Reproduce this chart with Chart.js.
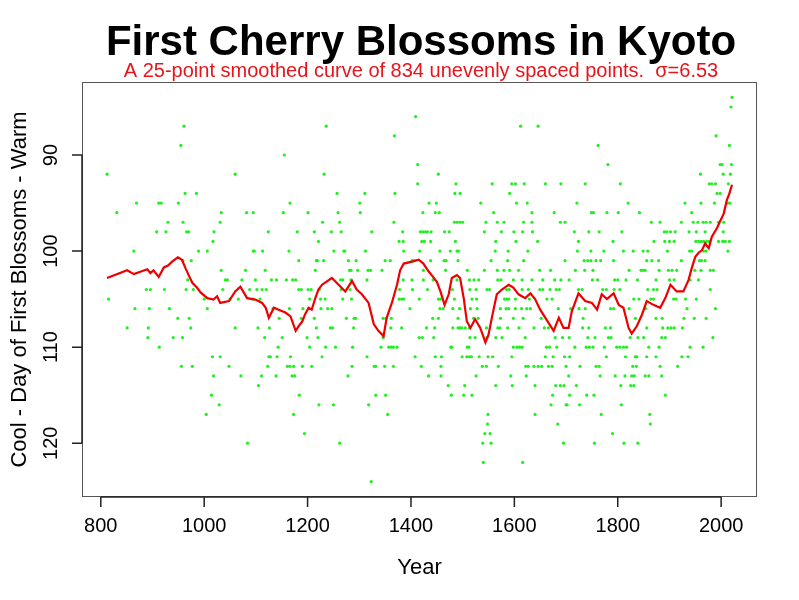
<!DOCTYPE html>
<html>
<head>
<meta charset="utf-8">
<script src="https://cdn.jsdelivr.net/npm/chart.js@4"></script>
<style>
  html, body { margin: 0; padding: 0; background: #fff; }
  canvas { display: block; }
</style>
</head>
<body>
<canvas id="chart" width="799" height="600"></canvas>
<script>
// Observed first-blossom days, grouped by day of year: obsYears[i] holds the years with day obsDays[i]
const obsDays = [84, 85, 86, 87, 88, 89, 90, 91, 92, 93, 94, 95, 96, 97, 98, 99, 100, 101, 102, 103,
  104, 105, 106, 107, 108, 109, 110, 111, 112, 113, 114, 115, 116, 117, 118, 119, 120, 122, 124];
const obsYears = [
  [2021],
  [2019],
  [1409],
  [961, 1236, 1612, 1646],
  [1368, 1990],
  [955, 1762, 2016],
  [1155],
  [1413, 1781, 1998, 2002, 2020],
  [812, 1060, 1232, 1453, 1960, 2004, 2018],
  [1413, 1487, 1557, 1595, 1602, 1619, 1660, 1690, 1737, 1805, 1977, 1982, 1989, 2014],
  [963, 985, 1257, 1311, 1369, 1485, 1495, 1591, 1992, 1998],
  [869, 912, 917, 950, 1166, 1301, 1435, 1449, 1535, 1604, 1625, 1721, 1820, 1930, 1961, 1987, 2013, 2017],
  [831, 1033, 1082, 1095, 1153, 1201, 1259, 1302, 1423, 1447, 1455, 1560, 1634, 1677, 1749, 1753, 1779,
    1801, 1842, 1943],
  [930, 959, 1031, 1229, 1262, 1367, 1484, 1489, 1495, 1500, 1545, 1567, 1580, 1618, 1634, 1689, 1698,
    1865, 1882, 1923, 1946, 1955, 1965, 1971, 1979, 1995, 2005],
  [908, 926, 966, 970, 1019, 1124, 1180, 1213, 1246, 1265, 1324, 1384, 1418, 1423, 1428, 1432, 1439,
    1465, 1474, 1542, 1575, 1599, 1616, 1635, 1716, 1744, 1764, 1808, 1890, 1895, 1902, 1911, 1938,
    1952, 1969, 2004],
  [1017, 1221, 1377, 1385, 1421, 1426, 1438, 1486, 1564, 1603, 1645, 1724, 1791, 1870, 1891, 1900, 1909,
    1951, 1956, 1961, 1966, 1972, 1977, 1995, 2003, 2008, 2016],
  [864, 989, 1006, 1095, 1097, 1113, 1164, 1251, 1270, 1272, 1312, 1386, 1417, 1456, 1476, 1489, 1492,
    1563, 1588, 1626, 1722, 1748, 1773, 1811, 1830, 1849, 1858, 1896, 1939, 1943, 1966, 1971, 2013],
  [959, 975, 1183, 1217, 1219, 1231, 1279, 1294, 1350, 1360, 1402, 1406, 1438, 1464, 1468, 1491, 1555,
    1587, 1618, 1698, 1735, 1742, 1748, 1758, 1767, 1792, 1856, 1866, 1879, 1923, 1958, 1962, 1969],
  [1033, 1080, 1118, 1215, 1281, 1284, 1297, 1317, 1322, 1344, 1424, 1467, 1509, 1542, 1567, 1580, 1591,
    1608, 1649, 1670, 1718, 1736, 1752, 1822, 1845, 1849, 1853, 1880, 1898, 1905, 1914, 1949, 1961,
    1979, 1985],
  [968, 1041, 1045, 1073, 1099, 1130, 1140, 1159, 1171, 1177, 1264, 1268, 1284, 1315, 1385, 1402, 1424,
    1443, 1489, 1513, 1522, 1531, 1568, 1574, 1598, 1615, 1634, 1655, 1678, 1690, 1706, 1751, 1761,
    1794, 1800, 1816, 1838, 1874, 1900, 1909, 1940, 1956],
  [888, 896, 923, 965, 979, 1036, 1088, 1102, 1112, 1120, 1183, 1188, 1201, 1207, 1223, 1265, 1282, 1378,
    1403, 1432, 1480, 1514, 1526, 1547, 1552, 1585, 1590, 1615, 1627, 1649, 1655, 1669, 1681, 1687,
    1724, 1731, 1771, 1778, 1793, 1804, 1858, 1869, 1876, 1979],
  [815, 1000, 1050, 1066, 1094, 1108, 1204, 1225, 1234, 1268, 1285, 1377, 1382, 1386, 1416, 1453, 1457,
    1484, 1518, 1527, 1581, 1585, 1589, 1602, 1629, 1663, 1673, 1831, 1841, 1864, 1869, 1908, 1913,
    1931, 1952],
  [866, 894, 933, 1006, 1133, 1165, 1191, 1202, 1226, 1239, 1247, 1398, 1456, 1462, 1481, 1494, 1515,
    1528, 1573, 1584, 1589, 1602, 1614, 1624, 1631, 1685, 1709, 1725, 1737, 1786, 1792, 1822, 1854,
    1934, 1989],
  [949, 971, 1145, 1188, 1213, 1275, 1290, 1293, 1346, 1352, 1362, 1442, 1453, 1491, 1521, 1530, 1573,
    1598, 1617, 1652, 1733, 1834, 1874, 1886, 1928, 1948, 1971],
  [851, 892, 974, 1060, 1104, 1126, 1217, 1244, 1248, 1289, 1361, 1382, 1430, 1446, 1481, 1491, 1495,
    1498, 1505, 1513, 1546, 1568, 1572, 1587, 1609, 1638, 1658, 1666, 1732, 1744, 1776, 1786, 1856,
    1887, 1897, 1903, 1909, 1925],
  [891, 940, 958, 1117, 1151, 1199, 1220, 1346, 1416, 1422, 1444, 1514, 1524, 1547, 1564, 1576, 1621,
    1679, 1693, 1706, 1742, 1756, 1782, 1787, 1824, 1839, 1850, 1885, 1892, 1984],
  [913, 1143, 1204, 1235, 1254, 1287, 1342, 1357, 1362, 1366, 1373, 1477, 1479, 1509, 1512, 1598, 1605,
    1610, 1615, 1662, 1668, 1682, 1717, 1739, 1745, 1752, 1774, 1798, 1804, 1811, 1817, 1860, 1880,
    1940, 1965],
  [1016, 1031, 1125, 1128, 1141, 1167, 1228, 1315, 1408, 1447, 1459, 1499, 1508, 1513, 1517, 1532, 1549,
    1558, 1595, 1660, 1675, 1697, 1707, 1778, 1815, 1834, 1837, 1856, 1874, 1924, 1936],
  [956, 977, 1048, 1123, 1161, 1166, 1173, 1190, 1208, 1286, 1329, 1332, 1349, 1366, 1420, 1458, 1538,
    1546, 1569, 1622, 1627, 1638, 1646, 1653, 1666, 1673, 1700, 1727, 1758, 1764, 1829, 1836, 1882, 1916],
  [1018, 1071, 1111, 1139, 1170, 1175, 1278, 1434, 1458, 1526, 1593, 1623, 1705, 1766, 1795, 1814, 1827,
    1832, 1853, 1860, 1885],
  [1105, 1472, 1504, 1564, 1596, 1640, 1680, 1689, 1696, 1720, 1806, 1825, 1831],
  [1014, 1184, 1332, 1351, 1478, 1502, 1518, 1674, 1707, 1740, 1754, 1892],
  [1029, 1222, 1250, 1318, 1671, 1700, 1702, 1726, 1807],
  [1004, 1173, 1355, 1549, 1640, 1768, 1862],
  [1548, 1684, 1863],
  [1194, 1543, 1553, 1790],
  [1084, 1262, 1539, 1555, 1695, 1755, 1812, 1839],
  [1540, 1616],
  [1323]
];

// 25-point smoothed curve
const curveYears = [812, 851, 864, 890, 896, 902, 912, 922, 930, 938, 949, 957, 964, 970, 977, 986, 993,
  1006, 1018, 1025, 1031, 1048, 1060, 1070, 1083, 1099, 1112, 1119, 1125, 1135, 1144, 1157, 1167, 1177,
  1183, 1190, 1195, 1202, 1208, 1215, 1221, 1228, 1247, 1260, 1273, 1286, 1295, 1305, 1318, 1328, 1337,
  1347, 1353, 1363, 1373, 1379, 1386, 1402, 1415, 1424, 1434, 1440, 1450, 1457, 1465, 1473, 1479, 1489,
  1495, 1502, 1508, 1515, 1524, 1534, 1544, 1550, 1557, 1566, 1576, 1589, 1598, 1608, 1621, 1631, 1640,
  1650, 1660, 1676, 1686, 1695, 1705, 1711, 1724, 1737, 1750, 1760, 1769, 1779, 1792, 1802, 1811, 1821,
  1827, 1837, 1847, 1856, 1869, 1882, 1892, 1902, 1914, 1927, 1937, 1943, 1950, 1956, 1963, 1969, 1976,
  1982, 1992, 1998, 2005, 2011, 2016, 2021];
const curveDays = [102.8, 102.0, 102.4, 101.9, 102.3, 102.0, 102.7, 101.7, 101.5, 101.1, 100.65, 100.9,
  101.8, 102.5, 103.3, 103.8, 104.3, 104.9, 105.05, 104.7, 105.4, 105.2, 104.2, 103.7, 104.9, 105.05,
  105.4, 105.9, 106.95, 105.9, 106.1, 106.4, 106.8, 108.3, 107.8, 107.3, 106.6, 105.9, 106.1, 104.9,
  104.0, 103.5, 102.8, 103.5, 104.2, 103.1, 104.0, 104.5, 105.4, 107.6, 108.3, 108.85, 106.95, 105.4,
  103.5, 102.0, 101.3, 101.1, 100.9, 101.3, 102.1, 102.5, 103.2, 104.2, 105.6, 104.5, 102.8, 102.5,
  102.8, 104.9, 107.3, 108.0, 107.1, 108.0, 109.5, 108.7, 106.8, 104.5, 104.0, 103.5, 103.8, 104.5,
  104.9, 104.4, 105.0, 106.1, 106.95, 108.3, 106.95, 108.0, 108.0, 106.3, 104.4, 105.2, 105.4, 106.1,
  104.5, 105.0, 104.4, 105.6, 105.9, 108.0, 108.6, 107.8, 106.6, 105.2, 105.6, 105.9, 104.9, 103.5,
  104.2, 104.2, 103.0, 101.8, 100.6, 100.2, 99.9, 99.2, 99.7, 98.5, 97.6, 96.9, 96.1, 94.7, 94.0, 93.1];

const xTicks = [800, 1000, 1200, 1400, 1600, 1800, 2000];
const yTicks = [90, 100, 110, 120];

const titleText = 'First Cherry Blossoms in Kyoto';
const subtitleText = 'A 25-point smoothed curve of 834 unevenly spaced points.  \u03c3=6.53';
const xTitle = 'Year';
const yTitle = 'Cool - Day of First Blossoms - Warm';

const FONT = "'Liberation Sans', Arial, Helvetica, sans-serif";

const points = [];
obsDays.forEach((d, i) => obsYears[i].forEach(yr => points.push({ x: yr, y: d })));
const curve = curveYears.map((yr, i) => ({ x: yr, y: curveDays[i] }));

// R pads the data range by 4% on each side
const allYears = points.map(p => p.x);
const allDays = points.map(p => p.y);
const yrMin = Math.min(...allYears), yrMax = Math.max(...allYears);
const dMin = Math.min(...allDays), dMax = Math.max(...allDays);
const xPad = (yrMax - yrMin) * 0.04;
const yPad = (dMax - dMin) * 0.04;

// Draws the R style box, axes, tick labels and titles
const rFrame = {
  id: 'rFrame',
  afterDraw(chart) {
    const { ctx, chartArea: a, scales } = chart;
    const x = scales.x, y = scales.y;
    const tick = 10;

    ctx.save();
    ctx.strokeStyle = '#555';
    ctx.lineWidth = 1;
    ctx.strokeRect(a.left + 0.5, a.top + 0.5, a.right - a.left - 1, a.bottom - a.top - 1);

    ctx.strokeStyle = '#222';
    ctx.lineWidth = 1.5;
    ctx.fillStyle = '#000';
    ctx.font = '20px ' + FONT;

    // x axis
    const xs = x.ticks.map(t => ({ px: x.getPixelForValue(t.value), v: t.value }));
    ctx.beginPath();
    ctx.moveTo(xs[0].px, a.bottom);
    ctx.lineTo(xs[xs.length - 1].px, a.bottom);
    xs.forEach(t => { ctx.moveTo(t.px, a.bottom); ctx.lineTo(t.px, a.bottom + tick); });
    ctx.stroke();
    ctx.textAlign = 'center';
    ctx.textBaseline = 'alphabetic';
    xs.forEach(t => ctx.fillText(String(t.v), t.px, 532));

    // y axis
    const ys = y.ticks.map(t => ({ px: y.getPixelForValue(t.value), v: t.value }));
    ctx.beginPath();
    ctx.moveTo(a.left, ys[0].px);
    ctx.lineTo(a.left, ys[ys.length - 1].px);
    ys.forEach(t => { ctx.moveTo(a.left, t.px); ctx.lineTo(a.left - tick, t.px); });
    ctx.stroke();
    ys.forEach(t => {
      ctx.save();
      ctx.translate(57, t.px);
      ctx.rotate(-Math.PI / 2);
      ctx.fillText(String(t.v), 0, 0);
      ctx.restore();
    });

    // axis titles
    ctx.font = '22px ' + FONT;
    ctx.fillText(xTitle, (a.left + a.right) / 2, 574);
    ctx.save();
    ctx.translate(26, (a.top + a.bottom) / 2);
    ctx.rotate(-Math.PI / 2);
    ctx.fillText(yTitle, 0, 0);
    ctx.restore();

    // main title and subtitle
    ctx.font = 'bold 42px ' + FONT;
    ctx.fillText(titleText, 421, 55);
    ctx.fillStyle = '#e8141c';
    ctx.font = '20px ' + FONT;
    ctx.fillText(subtitleText, 421, 77);
    ctx.restore();
  }
};

new Chart(document.getElementById('chart'), {
  type: 'scatter',
  data: {
    datasets: [
      {
        label: 'Smoothed',
        data: curve,
        showLine: true,
        borderColor: '#ee0000',
        borderWidth: 2.2,
        pointRadius: 0,
        tension: 0
      },
      {
        label: 'Observed',
        data: points,
        backgroundColor: '#22ee22',
        borderWidth: 0,
        pointRadius: 1.6
      }
    ]
  },
  options: {
    responsive: false,
    animation: false,
    devicePixelRatio: 1,
    layout: { padding: { left: 82, right: 42, top: 82, bottom: 103 } },
    plugins: {
      legend: { display: false },
      tooltip: { enabled: false }
    },
    scales: {
      x: {
        type: 'linear',
        min: yrMin - xPad,
        max: yrMax + xPad,
        afterBuildTicks: (scale) => { scale.ticks = xTicks.map(v => ({ value: v })); },
        ticks: { display: false },
        grid: { display: false, drawTicks: false },
        border: { display: false }
      },
      y: {
        type: 'linear',
        reverse: true,
        min: dMin - yPad,
        max: dMax + yPad,
        afterBuildTicks: (scale) => { scale.ticks = yTicks.map(v => ({ value: v })); },
        ticks: { display: false },
        grid: { display: false, drawTicks: false },
        border: { display: false }
      }
    }
  },
  plugins: [rFrame]
});
</script>
</body>
</html>
